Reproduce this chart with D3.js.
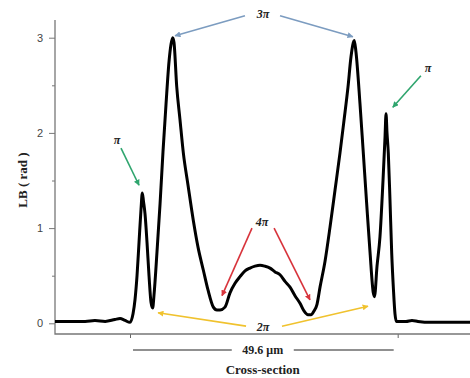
<!DOCTYPE html>
<html>
<head>
<meta charset="utf-8">
<script src="https://cdn.jsdelivr.net/npm/d3@7"></script>
<style>
  body { margin: 0; background: #fff; }
  svg { display: block; }
</style>
</head>
<body>
<div id="chart"></div>
<script>
// cross-section position (um) and linear birefringence (rad)
const pos = [-13.9, -11.1, -8.3, -6.5, -4.6, -2.8, -1.85, -0.93, 0, 0.56, 0.93, 1.3, 1.67, 2.04, 2.28, 2.5, 2.78,
  3.15, 3.52, 3.89, 4.2, 4.45, 5.0, 5.56, 6.11, 6.67, 7.23, 7.6, 7.91, 8.15, 8.65, 9.26, 9.88, 10.75, 11.73,
  12.6, 13.58, 14.45, 15.44, 16.1, 16.68, 17.6, 18.53, 19.46, 20.38, 21.31, 22.23, 23.16, 24.09, 25.0, 25.94,
  26.87, 27.79, 28.72, 29.65, 30.57, 31.5, 32.24, 32.98, 33.54, 34.1, 34.65, 35.21, 36.13, 37.06, 37.99, 38.91,
  39.65, 40.39, 40.95, 41.56, 41.87, 42.61, 43.17, 43.85, 44.47, 45.08, 45.3, 45.77, 46.32, 46.88, 47.25, 47.44,
  47.62, 47.86, 48.17, 48.49, 48.82, 49.1, 49.37, 50.02, 51.14, 52.25, 53.36, 55.6, 58.37, 61.1, 63.0]
const lb = [0.02, 0.02, 0.02, 0.03, 0.02, 0.04, 0.05, 0.03, 0.01, 0.10, 0.25, 0.5, 0.85, 1.2, 1.37, 1.28, 1.15,
  0.85, 0.5, 0.22, 0.16, 0.3, 0.75, 1.25, 1.8, 2.3, 2.75, 2.93, 3.0, 2.95, 2.49, 2.14, 1.79, 1.45, 1.08,
  0.80, 0.56, 0.35, 0.17, 0.14, 0.14, 0.17, 0.32, 0.42, 0.49, 0.55, 0.58, 0.6, 0.61, 0.6, 0.58,
  0.54, 0.51, 0.44, 0.38, 0.29, 0.21, 0.13, 0.09, 0.09, 0.13, 0.2, 0.38, 0.65, 1.01, 1.4, 1.79,
  2.13, 2.48, 2.8, 2.97, 2.85, 2.31, 1.84, 1.26, 0.75, 0.32, 0.28, 0.6, 0.91, 1.5, 1.95, 2.2,
  2.0, 1.79, 1.3, 0.74, 0.35, 0.1, 0.02, 0.02, 0.02, 0.03, 0.02, 0.01, 0.01, 0.01, 0.01]

const yTicks = [0, 1, 2, 3]
const yMinorTicks = [0.5, 1.5, 2.5]
const xTicks = [0, 49.6]

// phase labels: text position and arrows, in (um, rad)
const noteLabels = ["3\u03c0", "\u03c0", "\u03c0", "4\u03c0", "2\u03c0"]
const noteText = [[24.64, 3.25], [-2.4, 1.93], [55.2, 2.68], [24.46, 1.07], [24.64, -0.04]]
const noteArrows = [
  [[[21.3, 3.23], [8.34, 3.02]], [[27.8, 3.23], [41.3, 3.01]]],
  [[[-1.67, 1.84], [1.67, 1.45]]],
  [[[53.9, 2.6], [48.7, 2.27]]],
  [[[22.6, 1.0], [17.05, 0.29]], [[26.7, 1.0], [33.35, 0.245]]],
  [[[21.5, -0.03], [5.19, 0.11]], [[28.16, -0.03], [44.1, 0.18]]]
]
const noteColors = ["#7c9cc0", "#2fa56e", "#2fa56e", "#d8343c", "#f0c22e"]

const width = 470, height = 378
const margin = ({top: 20, right: 0, bottom: 44, left: 55})
const serif = "'Liberation Serif', 'DejaVu Serif', serif"

const x = d3.scaleLinear().domain([-13.9, 63]).range([margin.left, width - margin.right])
const y = d3.scaleLinear().domain([0, 3]).range([323.3, 37.7])
const axisY = height - margin.bottom  // 334

const svg = d3.select("#chart").append("svg")
  .attr("width", width)
  .attr("height", height)

const defs = svg.append("defs")
noteColors.forEach((c, i) => {
  defs.append("marker")
    .attr("id", "arr" + i)
    .attr("viewBox", "0 0 10 10")
    .attr("refX", 9).attr("refY", 5)
    .attr("markerWidth", 6).attr("markerHeight", 6)
    .attr("markerUnits", "userSpaceOnUse")
    .attr("orient", "auto")
    .append("path")
    .attr("d", "M0,0L10,5L0,10z")
    .attr("fill", c)
})

// y axis
svg.append("g")
  .attr("transform", `translate(${margin.left},0)`)
  .call(d3.axisLeft(y).tickValues(yTicks).tickSize(6).tickPadding(6).tickFormat(d3.format("d")))
  .call(g => g.select(".domain").remove())
  .call(g => g.selectAll("line").attr("stroke", "#777"))
  .call(g => g.selectAll("text").attr("fill", "#444").attr("font-size", 11)
    .attr("font-family", "'Liberation Sans', Arial, sans-serif"))
svg.append("g")
  .attr("transform", `translate(${margin.left},0)`)
  .call(d3.axisLeft(y).tickValues(yMinorTicks).tickSize(3).tickFormat(""))
  .call(g => g.select(".domain").remove())
  .call(g => g.selectAll("line").attr("stroke", "#777"))

// x axis, no labels
svg.append("g")
  .attr("transform", `translate(0,${axisY})`)
  .call(d3.axisBottom(x).tickValues(xTicks).tickSize(4).tickFormat(""))
  .call(g => g.select(".domain").remove())
  .call(g => g.selectAll("line").attr("stroke", "#666"))

svg.append("path")
  .attr("d", `M${margin.left},${margin.top}V${axisY}H${width}`)
  .attr("fill", "none")
  .attr("stroke", "#777")
  .attr("stroke-width", 1.3)

// curve
const pts = pos.map((p, i) => [p, lb[i]])
svg.append("path")
  .datum(pts)
  .attr("fill", "none")
  .attr("stroke", "#000")
  .attr("stroke-width", 3)
  .attr("stroke-linejoin", "round")
  .attr("d", d3.line().x(d => x(d[0])).y(d => y(d[1])).curve(d3.curveMonotoneX))

// annotations
noteLabels.forEach((t, i) => {
  noteArrows[i].forEach(a => {
    svg.append("line")
      .attr("x1", x(a[0][0])).attr("y1", y(a[0][1]))
      .attr("x2", x(a[1][0])).attr("y2", y(a[1][1]))
      .attr("stroke", noteColors[i])
      .attr("stroke-width", 1.6)
      .attr("marker-end", `url(#arr${i})`)
  })
  svg.append("text")
    .attr("x", x(noteText[i][0]))
    .attr("y", y(noteText[i][1]))
    .attr("dy", "0.35em")
    .attr("text-anchor", "middle")
    .attr("font-family", serif)
    .attr("font-weight", "bold")
    .attr("font-style", "italic")
    .attr("font-size", 12)
    .attr("fill", "#222")
    .text(t)
})

// width marker under the axis
const spanY = 350
const mid = x(24.6)
svg.append("line")
  .attr("x1", x(xTicks[0]) + 3).attr("x2", mid - 31)
  .attr("y1", spanY).attr("y2", spanY)
  .attr("stroke", "#222").attr("stroke-width", 1.2)
svg.append("line")
  .attr("x1", mid + 31).attr("x2", x(xTicks[1]) - 4)
  .attr("y1", spanY).attr("y2", spanY)
  .attr("stroke", "#222").attr("stroke-width", 1.2)
svg.append("text")
  .attr("x", mid).attr("y", spanY).attr("dy", "0.35em")
  .attr("text-anchor", "middle")
  .attr("font-family", serif).attr("font-weight", "bold").attr("font-size", 12)
  .attr("fill", "#222")
  .text("49.6 \u03bcm")

svg.append("text")
  .attr("x", mid).attr("y", 369).attr("dy", "0.35em")
  .attr("text-anchor", "middle")
  .attr("font-family", serif).attr("font-weight", "bold").attr("font-size", 13)
  .attr("fill", "#222")
  .text("Cross-section")

svg.append("text")
  .attr("transform", "translate(22,180) rotate(-90)")
  .attr("dy", "0.35em")
  .attr("text-anchor", "middle")
  .attr("font-family", serif).attr("font-weight", "bold").attr("font-size", 13)
  .attr("fill", "#222")
  .text("LB ( rad )")
</script>
</body>
</html>
